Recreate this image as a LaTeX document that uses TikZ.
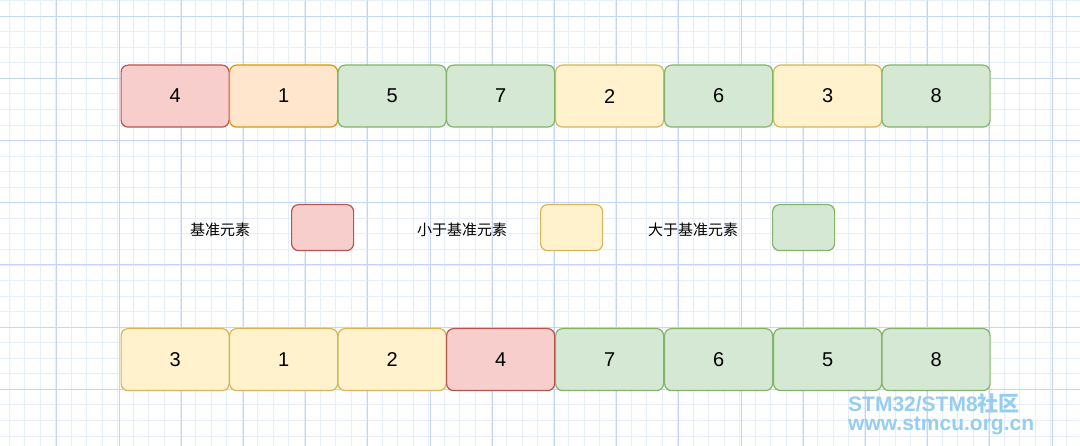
\documentclass[tikz,border=0pt]{standalone}
\usepackage{fontspec}
\setmainfont{Liberation Sans}
\newfontfamily\cjk{Noto Sans CJK SC}
\definecolor{gmin}{RGB}{230,238,252}
\definecolor{gmaj}{RGB}{196,214,245}
\definecolor{rf}{RGB}{248,206,204}\definecolor{rd}{RGB}{184,84,80}
\definecolor{of}{RGB}{255,230,204}\definecolor{od}{RGB}{215,155,0}
\definecolor{gf}{RGB}{213,232,212}\definecolor{gd}{RGB}{130,179,102}
\definecolor{yf}{RGB}{255,242,204}\definecolor{yd}{RGB}{214,182,86}
\definecolor{wmc}{RGB}{150,205,240}
\begin{document}
\begin{tikzpicture}[x=1pt,y=-1pt,
  cell/.style={rounded corners=7pt,line width=1.2pt,minimum width=108pt,minimum height=62pt,inner sep=0pt,font=\fontsize{20}{20}\selectfont,anchor=north west},
  R/.style={cell,fill=rf,draw=rd},
  O/.style={cell,fill=of,draw=od},
  G/.style={cell,fill=gf,draw=gd},
  Y/.style={cell,fill=yf,draw=yd},
  leg/.style={minimum width=62pt,minimum height=46pt},
  lbl/.style={font=\cjk\fontsize{15}{15}\selectfont},
  wm/.style={font=\bfseries\fontsize{21}{21}\selectfont,text=wmc,anchor=west,inner sep=0pt}]
\useasboundingbox (0,0) rectangle (1080,446);
\fill[white] (0,0) rectangle (1080,446);
\foreach \i in {0,...,70}{
  \draw[gmin,line width=0.6pt] ({8.8+15.55*\i},0) -- ({8.8+15.55*\i},446);}
\foreach \i in {0,...,29}{
  \draw[gmin,line width=0.6pt] (0,{0.5+15.55*\i}) -- (1080,{0.5+15.55*\i});}
\foreach \i in {0,...,17}{
  \draw[gmaj,line width=0.8pt] ({-5.4+62.2*\i},0) -- ({-5.4+62.2*\i},446);}
\foreach \i in {0,...,7}{
  \draw[gmaj,line width=0.8pt] (0,{16+62.2*\i}) -- (1080,{16+62.2*\i});}
\node[R] (a1) at (120.5,64.5) {4};
\node[O] (a2) at (229,64.5) {1};
\node[G] (a3) at (337.5,64.5) {5};
\node[G] (a4) at (446,64.5) {7};
\node[Y] (a5) at (555,64.5) {2};
\node[G] (a6) at (664,64.5) {6};
\node[Y] (a7) at (773,64.5) {3};
\node[G] (a8) at (881.5,64.5) {8};
\node[Y] (b1) at (120.5,328) {3};
\node[Y] (b2) at (229,328) {1};
\node[Y] (b3) at (337.5,328) {2};
\node[R] (b4) at (446,328) {4};
\node[G] (b5) at (555,328) {7};
\node[G] (b6) at (664,328) {6};
\node[G] (b7) at (773,328) {5};
\node[G] (b8) at (881.5,328) {8};
\node[lbl] (t1) at (220,230) {基准元素};
\node[R,leg] (l1) at (291,204) {};
\node[lbl] (t2) at (462,230) {小于基准元素};
\node[Y,leg] (l2) at (540,204) {};
\node[lbl] (t3) at (693,230) {大于基准元素};
\node[G,leg] (l3) at (772,204) {};
\node[wm] (w1) at (848,403) {STM32/STM8{\cjk 社区}};
\node[wm] (w2) at (848,426) {www.stmcu.org.cn};
\end{tikzpicture}
\end{document}
